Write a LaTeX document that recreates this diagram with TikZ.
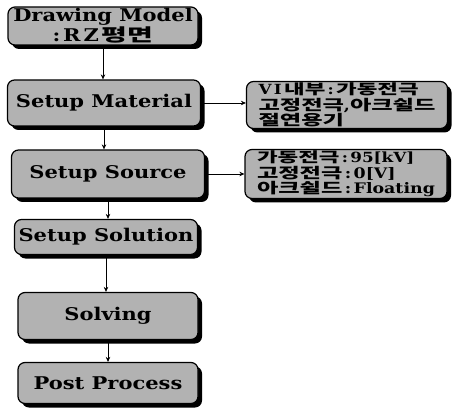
\documentclass[tikz,border=0pt]{standalone}
\usepackage{fontspec}
\usetikzlibrary{arrows.meta,shadows}
\newfontfamily\boxfont{DejaVu Serif}[FakeStretch=1.2]
\newfontfamily\kofont{Noto Sans CJK KR}[FakeStretch=1.6]
\newcommand\ko[1]{{\kofont\bfseries #1}}
\begin{document}
\begin{tikzpicture}[x=1pt,y=-1pt,
  box/.style={draw=black, line width=1.2pt, rounded corners=7pt, fill=black!30,
    general shadow={fill=black, shadow xshift=4pt, shadow yshift=-4pt},
    font=\boxfont\bfseries\fontsize{17.5}{16.5}\selectfont, align=center, inner sep=0pt},
  sidebox/.style={box, align=left, font=\boxfont\bfseries\fontsize{14.5}{15.5}\selectfont},
  conn/.style={line width=0.8pt, -{Stealth[length=5pt,width=4.5pt]}}
]
\useasboundingbox (0,0) rectangle (454,419);
\node[box, minimum width=190pt, minimum height=38pt] (draw) at (103,26) {Drawing Model\\:\,R\,Z\,\ko{평면}};
\node[box, minimum width=193pt, minimum height=46pt] (mat) at (104,103) {Setup Material};
\node[box, minimum width=193pt, minimum height=48pt] (src) at (108,174) {Setup Source};
\node[box, minimum width=183pt, minimum height=35pt] (sol) at (106,237) {Setup Solution};
\node[box, minimum width=180pt, minimum height=47pt] (solv) at (108,316) {Solving};
\node[box, minimum width=180pt, minimum height=41pt] (post) at (108,383) {Post Process};
\node[sidebox, minimum width=201pt, minimum height=47pt] (r1) at (347,105)
  {\fontsize{14}{15.5}\selectfont V\,I\,\ko{내부}\,:\,\ko{가동전극}\\\ko{고정전극},\ko{아크쉴드}\\\ko{절연용기}};
\node[sidebox, minimum width=202pt, minimum height=49pt] (r2) at (346,174)
  {\fontsize{14}{15.5}\selectfont\ko{가동전극}\,:\,95[kV]\\\ko{고정전극}\,:\,0[V]\\\ko{아크쉴드}\,:\,Floating};
\draw[conn] (draw.south) -- (draw.south |- mat.north);
\draw[conn] (mat.south) -- (mat.south |- src.north);
\draw[conn] (src.south) -- (src.south |- sol.north);
\draw[conn] (sol.south) -- (sol.south |- solv.north);
\draw[conn] (solv.south) -- (solv.south |- post.north);
\draw[conn] (mat.east) -- (mat.east -| r1.west);
\draw[conn] (src.east) -- (src.east -| r2.west);
\end{tikzpicture}
\end{document}
